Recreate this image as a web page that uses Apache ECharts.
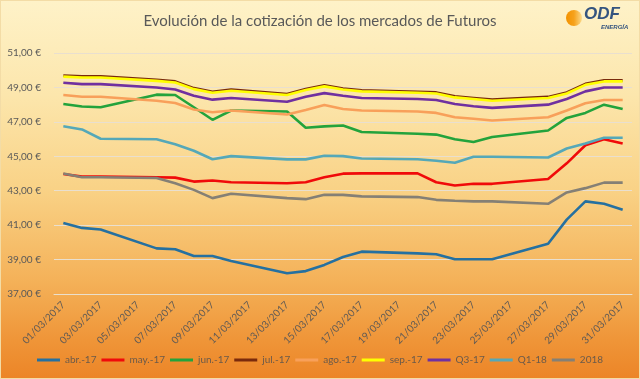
<!DOCTYPE html>
<html>
<head>
<meta charset="utf-8">
<script src="https://cdn.jsdelivr.net/npm/echarts@6/dist/echarts.min.js"></script>
<style>
html,body{margin:0;padding:0;}
#c{width:640px;height:379px;box-sizing:border-box;border:1px solid #f3dca6;
background:linear-gradient(to bottom,#fef2c8 0%,#fce6ac 25%,#f9d286 50%,#f4b057 75%,#ef9538 90%,#ec8527 100%);}
</style>
</head>
<body>
<div id="c"></div>
<script>
// Trading days of March 2017 (day of month)
const tradingDays = [1,2,3,6,7,8,9,10,13,14,15,16,17,20,21,22,23,24,27,28,29,30,31];
const seriesNames = ['abr.-17','may.-17','jun.-17','jul.-17','ago.-17','sep.-17','Q3-17','Q1-18','2018'];
const abr17 = [41.13,40.84,40.75,39.65,39.60,39.21,39.21,38.92,38.21,38.33,38.69,39.15,39.46,39.36,39.31,39.02,39.02,39.02,39.92,41.32,42.38,42.24,41.90];
const may17 = [43.97,43.82,43.82,43.78,43.76,43.53,43.59,43.49,43.43,43.49,43.78,43.99,44.01,44.01,43.49,43.30,43.40,43.40,43.68,44.59,45.64,45.99,45.74];
const jun17 = [48.04,47.89,47.85,48.58,48.56,47.85,47.12,47.66,47.60,46.66,46.74,46.79,46.41,46.31,46.26,45.99,45.83,46.12,46.50,47.23,47.52,48.00,47.75];
const jul17 = [49.69,49.64,49.64,49.44,49.35,48.96,48.75,48.87,48.62,48.91,49.12,48.94,48.83,48.75,48.71,48.48,48.39,48.29,48.45,48.71,49.21,49.41,49.41];
const ago17 = [48.56,48.46,48.46,48.23,48.10,47.72,47.56,47.66,47.43,47.69,47.98,47.75,47.66,47.60,47.52,47.27,47.18,47.08,47.27,47.66,48.08,48.27,48.27];
const sep17 = [49.63,49.58,49.58,49.38,49.29,48.90,48.69,48.81,48.56,48.85,49.06,48.88,48.77,48.69,48.65,48.42,48.33,48.23,48.39,48.65,49.15,49.35,49.35];
const q317  = [49.27,49.19,49.19,49.00,48.88,48.52,48.29,48.39,48.17,48.46,48.67,48.52,48.39,48.33,48.27,48.04,47.91,47.81,48.00,48.33,48.77,49.00,49.00];
const q118  = [46.75,46.56,46.02,45.99,45.70,45.32,44.83,45.01,44.82,44.82,45.03,45.01,44.87,44.83,44.74,44.62,44.97,44.97,44.93,45.45,45.74,46.08,46.08];
const y2018 = [44.00,43.78,43.78,43.74,43.43,43.05,42.57,42.82,42.57,42.51,42.76,42.76,42.67,42.63,42.47,42.42,42.38,42.38,42.24,42.90,43.15,43.47,43.47];
const colors = ['#2570a0','#f00a0a','#23a33c','#7a2a0c','#f8a05a','#ffff00','#7030a0','#55a8b8','#858075'];
const yMin = 37, yMax = 51, yStep = 2;

const categories = [];
for (let d = 1; d <= 31; d++) categories.push(String(d).padStart(2,'0') + '/03/2017');
function toFull(vals){
  const arr = new Array(31).fill(null);
  tradingDays.forEach((d,i)=>{ arr[d-1] = vals[i]; });
  return arr;
}
const allVals = [abr17,may17,jun17,jul17,ago17,sep17,q317,q118,y2018];
const FONT = 'Lato';
const chart = echarts.init(document.getElementById('c'), null, {renderer:'canvas'});
chart.setOption({
  animation:false,
  textStyle:{fontFamily:FONT},
  title:{text:'Evolución de la cotización de los mercados de Futuros',left:'center',top:8,
    textStyle:{fontFamily:FONT,fontSize:15,fontWeight:'normal',color:'#595959'}},
  grid:{left:53,right:7,top:52,bottom:84,containLabel:false,outerBoundsMode:'none'},
  legend:{bottom:8,left:'center',itemGap:5,itemWidth:23,itemHeight:3,icon:'rect',
    textStyle:{fontFamily:FONT,fontSize:10,color:'#6b5a4a'},
    data:seriesNames},
  xAxis:{type:'category',data:categories,boundaryGap:true,
    axisLine:{lineStyle:{color:'#eadfcc'}},
    axisTick:{interval:1,length:5,lineStyle:{color:'#eadfcc'}},
    axisLabel:{interval:1,rotate:45,fontSize:10,color:'#5f5a55',fontFamily:FONT,margin:9},
    splitLine:{show:false}},
  yAxis:{type:'value',min:yMin,max:yMax,interval:yStep,
    axisLine:{show:false},axisTick:{show:false},
    axisLabel:{fontSize:10,color:'#595959',fontFamily:FONT,margin:13,
      formatter:v=>v.toFixed(2).replace('.',',')+' €'},
    splitLine:{lineStyle:{color:'#e9dfcf',width:1}}},
  series:seriesNames.map((n,i)=>({name:n,type:'line',data:toFull(allVals[i]),connectNulls:true,
    showSymbol:false,symbol:'none',lineStyle:{width:2.6,color:colors[i]},itemStyle:{color:colors[i]}})),
  graphic:[
    {type:'circle',shape:{cx:573,cy:17,r:8},style:{fill:new echarts.graphic.LinearGradient(1,0,0,0,[{offset:0,color:'#fbd98a'},{offset:0.5,color:'#f6a21c'},{offset:1,color:'#f39200'}])}},
    {type:'text',left:583,top:5,style:{text:'ODF',fontFamily:'Liberation Sans',fontStyle:'italic',fontWeight:'bold',fontSize:17,fill:'#34547f'}},
    {type:'text',left:600,top:23,style:{text:'ENERGÍA',fontFamily:'Liberation Sans',fontStyle:'italic',fontWeight:'bold',fontSize:6,fill:'#34547f'}}
  ]
});
</script>
</body>
</html>
